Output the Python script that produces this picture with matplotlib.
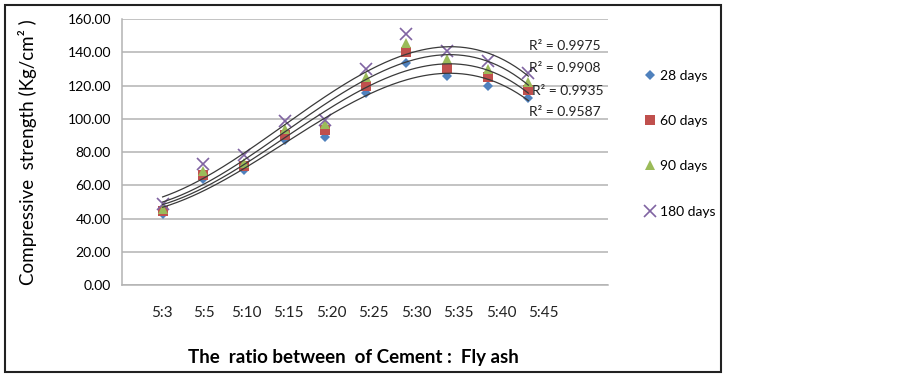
import numpy as np
import matplotlib
matplotlib.use("Agg")
import matplotlib.pyplot as plt
from matplotlib.patches import Rectangle

plt.rcParams['font.family'] = ['Lato', 'DejaVu Sans']

# categories (cement : fly ash ratio)
ratios = ['5:3', '5:5', '5:10', '5:15', '5:20', '5:25', '5:30', '5:35', '5:40', '5:45']

# compressive strength readings, Kg/cm2
days_28 = [43.0, 64.0, 69.0, 87.0, 89.0, 115.5, 133.5, 125.5, 119.5, 112.5]
days_60 = [44.5, 66.0, 71.5, 90.0, 93.0, 120.0, 140.0, 130.5, 125.0, 117.0]
days_90 = [46.0, 68.5, 73.5, 94.0, 97.0, 125.0, 145.5, 136.0, 130.0, 122.0]
days_180 = [48.5, 73.0, 78.0, 98.5, 99.5, 130.0, 151.0, 141.0, 134.5, 127.5]

r2_labels = ['R² = 0.9975', 'R² = 0.9908', 'R² = 0.9935', 'R² = 0.9587']

series = [
    ('28 days', days_28, 'D', '#4F81BD', 5.5),
    ('60 days', days_60, 's', '#C0504D', 6.5),
    ('90 days', days_90, '^', '#9BBB59', 7),
    ('180 days', days_180, 'x', '#8064A2', 8),
]

fig = plt.figure(figsize=(9.03, 3.75), dpi=100)
ax = fig.add_axes([0.1351, 0.24, 0.5382, 0.7093])

x = np.arange(1, len(ratios) + 1)
xs = np.linspace(1, len(ratios), 200)

handles = []
for name, vals, mk, col, ms in series:
    if mk == 'x':
        h, = ax.plot(x, vals, linestyle='none', marker=mk, color=col,
                     markersize=ms, markeredgewidth=1.2, label=name, zorder=3)
    else:
        h, = ax.plot(x, vals, linestyle='none', marker=mk, color=col,
                     markersize=ms, markeredgewidth=0, label=name, zorder=3)
    handles.append(h)
    # 3rd order polynomial trendline
    coef = np.polyfit(x, vals, 3)
    ax.plot(xs, np.polyval(coef, xs), color='#3a3a3a', linewidth=0.9, zorder=4)

ax.set_xlim(0, 11.96)
ax.set_ylim(0, 160)
ax.set_yticks(np.arange(0, 161, 20))
ax.set_yticklabels([f'{v:.2f}' for v in np.arange(0, 161, 20)], fontsize=10)
ax.yaxis.grid(True, color='#b3b3b3', linewidth=1.1)
ax.set_axisbelow(True)
ax.tick_params(axis='y', length=0, pad=8)
ax.set_xticks([])

for side in ['top', 'right']:
    ax.spines[side].set_visible(False)
ax.spines['left'].set_color('#b3b3b3')
ax.spines['bottom'].set_color('#b3b3b3')
ax.spines['left'].set_linewidth(1.1)
ax.spines['bottom'].set_linewidth(1.1)

# category labels under the plot
for i, lab in enumerate(ratios):
    ax.text(x[i] * 1.044 - 0.07, -17, lab, ha='center', va='center', fontsize=11,
            color='#222222')

# R squared labels
r2_pos = [(11.77, 143.8), (11.77, 130.5), (11.85, 116.7), (11.77, 104.0)]
for lab, (px, py) in zip(r2_labels, r2_pos):
    ax.text(px, py, lab, ha='right', va='center', fontsize=10, color='#222222')

ax.set_ylabel('Compressive  strength (Kg/cm² )', fontsize=13.5, labelpad=22)
fig.text(0.391, 0.048, 'The  ratio between  of Cement :  Fly ash', ha='center',
         va='center', fontsize=13.5, fontweight='bold')

fig.legend(handles=handles, loc='center left', bbox_to_anchor=(0.708, 0.617),
           frameon=False, fontsize=10, labelspacing=2.4, handlelength=0.8,
           handletextpad=0.3, borderaxespad=0)

# outer chart frame
fig.patches.append(Rectangle((5 / 903, 3 / 375), 716 / 903, 367 / 375,
                             transform=fig.transFigure, fill=False,
                             edgecolor='#222222', linewidth=1.5))

fig.savefig('out.png', dpi=100)
